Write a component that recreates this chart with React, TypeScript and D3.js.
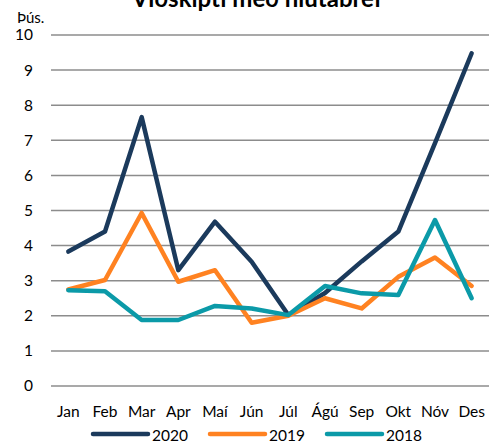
import { scaleBand, scaleLinear, line } from "d3";

const months = ["Jan", "Feb", "Mar", "Apr", "Maí", "Jún", "Júl", "Ágú", "Sep", "Okt", "Nóv", "Des"];
const s2020 = [3.83, 4.4, 7.66, 3.3, 4.68, 3.54, 2.02, 2.65, 3.55, 4.4, 6.92, 9.48];
const s2019 = [2.75, 3.02, 4.93, 2.97, 3.3, 1.8, 2.0, 2.5, 2.21, 3.11, 3.66, 2.85];
const s2018 = [2.73, 2.7, 1.88, 1.88, 2.28, 2.21, 2.02, 2.85, 2.64, 2.59, 4.73, 2.5];
const yTicks = [0, 1, 2, 3, 4, 5, 6, 7, 8, 9, 10];

const series = [
  { name: "2020", values: s2020, color: "#1b3a5c" },
  { name: "2019", values: s2019, color: "#ff8221" },
  { name: "2018", values: s2018, color: "#0b9aa8" },
];

const width = 498;
const height = 443;
const left = 50;
const right = 490;
const top = 35;
const bottom = 386;
const font = "Lato, 'Open Sans', sans-serif";

export default function App() {
  const x = scaleBand<string>().domain(months).range([left, right]);
  const y = scaleLinear().domain([0, 10]).range([bottom, top]);
  const cx = (m: string) => (x(m) ?? 0) + x.bandwidth() / 2;

  const lineGen = line<number>()
    .x((_, i) => cx(months[i]))
    .y((d) => y(d));

  const legendX = [93, 210, 327];

  return (
    <svg
      width={width}
      height={height}
      style={{ position: "absolute", left: 0, top: 0, background: "white" }}
      fontFamily={font}
    >
      <text x={257} y={7} textAnchor="middle" fontSize={24} fontWeight="bold" fill="#000">
        Viðskipti með hlutabréf
      </text>
      <text x={17} y={23} fontSize={15} fill="#000">
        Þús.
      </text>
      {yTicks.map((t) => (
        <g key={t}>
          <line x1={left + 1} x2={right - 1} y1={y(t)} y2={y(t)} stroke="#8c8c8c" strokeWidth={1.5} />
          <text x={33} y={y(t)} dy="0.35em" textAnchor="end" fontSize={15.5} fill="#000">
            {t}
          </text>
        </g>
      ))}
      {months.map((m) => (
        <text key={m} x={cx(m)} y={417} textAnchor="middle" fontSize={15.5} fill="#000">
          {m}
        </text>
      ))}
      {series.map((s) => (
        <path
          key={s.name}
          d={lineGen(s.values) ?? ""}
          fill="none"
          stroke={s.color}
          strokeWidth={4.5}
          strokeLinejoin="round"
          strokeLinecap="round"
        />
      ))}
      {series.map((s, i) => (
        <g key={s.name}>
          <line
            x1={legendX[i]}
            x2={legendX[i] + 55}
            y1={434}
            y2={434}
            stroke={s.color}
            strokeWidth={4.5}
            strokeLinecap="round"
          />
          <text x={legendX[i] + 59} y={441} fontSize={15.5} fill="#000">
            {s.name}
          </text>
        </g>
      ))}
    </svg>
  );
}
